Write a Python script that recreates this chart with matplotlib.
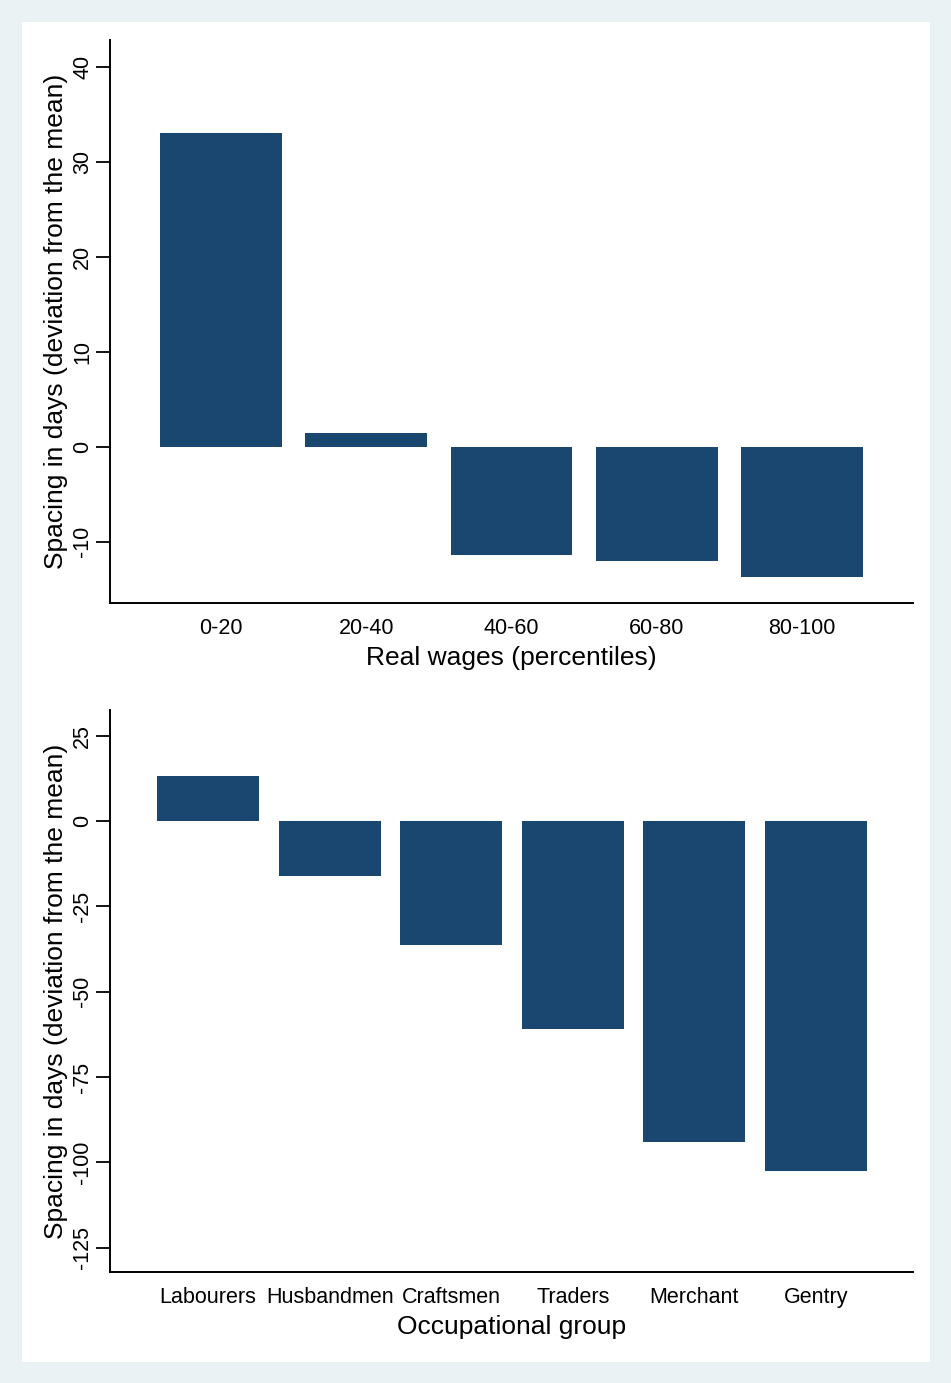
import matplotlib
matplotlib.use("Agg")
import matplotlib.pyplot as plt
import matplotlib.patches as mpatches

plt.rcParams["font.family"] = ["Liberation Sans", "DejaVu Sans"]

# wage percentile groups
wage_groups = ["0-20", "20-40", "40-60", "60-80", "80-100"]
wage_spacing = [33.0, 1.4, -11.4, -12.0, -13.7]

# occupational groups
occ_groups = ["Labourers", "Husbandmen", "Craftsmen", "Traders", "Merchant", "Gentry"]
occ_spacing = [13.2, -16.2, -36.2, -60.9, -93.9, -102.6]

wage_ticks = [-10, 0, 10, 20, 30, 40]
occ_ticks = [-125, -100, -75, -50, -25, 0, 25]

NAVY = "#1A476F"
BG = "#EAF2F3"
YLABEL = "Spacing in days (deviation from the mean)"

fig = plt.figure(figsize=(9.51, 13.83), dpi=100, facecolor=BG)
# white plot region inside the tinted border
fig.patches.append(mpatches.Rectangle((22 / 951, 1 - 1362 / 1383), (930 - 22) / 951,
                                      (1362 - 22) / 1383, transform=fig.transFigure,
                                      facecolor="white", edgecolor="none", zorder=-10))


def bar_panel(ax, labels, values, ticks, ylim, xlim, xlabel):
    pos = list(range(1, len(labels) + 1))
    ax.bar(pos, values, width=0.84, color=NAVY, edgecolor="none", zorder=2)
    ax.set_xlim(*xlim)
    ax.set_ylim(*ylim)
    ax.set_xticks(pos)
    ax.set_xticklabels(labels, fontsize=15.5)
    ax.set_yticks(ticks)
    ax.set_yticklabels([str(t) for t in ticks], fontsize=15.5, rotation=90, va="center")
    ax.tick_params(axis="x", length=0, pad=11)
    ax.tick_params(axis="y", length=10, width=1.3, pad=2)
    ax.set_xlabel(xlabel, fontsize=19, labelpad=5)
    ax.set_ylabel(YLABEL, fontsize=19, labelpad=3)
    for side in ("top", "right"):
        ax.spines[side].set_visible(False)
    for side in ("left", "bottom"):
        ax.spines[side].set_linewidth(1.4)
    ax.set_facecolor("none")


ax1 = fig.add_axes([110 / 951, 1 - 603 / 1383, 803 / 951, 563 / 1383])
bar_panel(ax1, wage_groups, wage_spacing, wage_ticks, (-16.45, 42.8), (0.234, 5.766),
          "Real wages (percentiles)")

ax2 = fig.add_axes([110 / 951, 1 - 1272 / 1383, 803 / 951, 562 / 1383])
bar_panel(ax2, occ_groups, occ_spacing, occ_ticks, (-132.1, 32.5), (0.193, 6.80),
          "Occupational group")

fig.savefig("out.png", dpi=100, facecolor=BG)
